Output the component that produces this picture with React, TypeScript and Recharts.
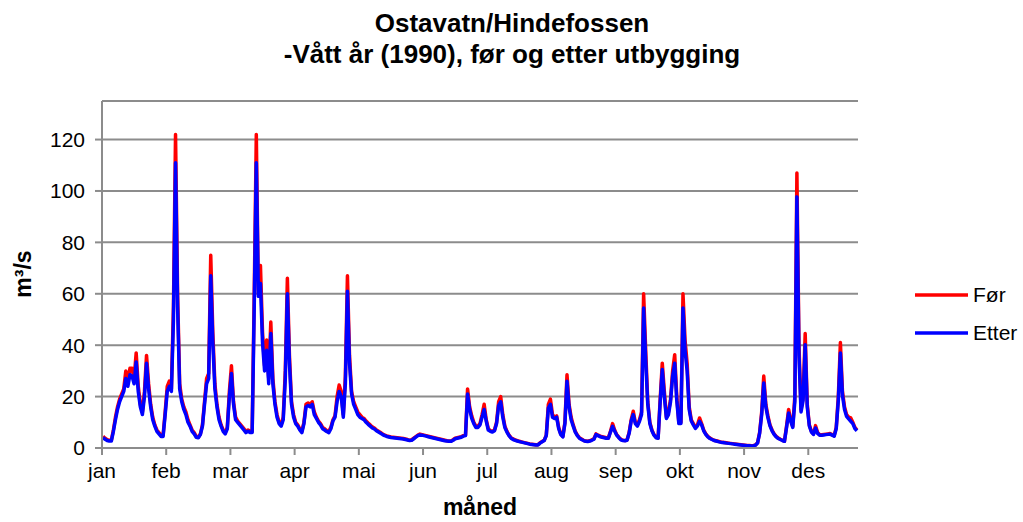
import { LineChart, Line, XAxis, YAxis, CartesianGrid } from 'recharts';

// Døgnverdier (m³/s) lest av figuren, før utbygging
const forJan = [4.5, 3.8, 3.2, 3.0, 3.0, 7, 12, 16, 19, 21, 23, 30, 26, 31, 31, 27, 37, 24, 17, 14, 22, 36, 25, 17, 12, 9, 7, 6, 5, 5, 14];
const forFeb = [24, 26, 23, 55, 122, 60, 25, 19, 16, 14, 11, 9, 7, 6, 4.5, 4.2, 5.5, 9, 18, 27, 29, 75, 45, 25, 17, 12, 9, 7];
const forMar = [6, 8, 22, 32, 18, 12, 10.5, 9.5, 8.5, 7.5, 6.5, 7, 6.5, 6.5, 60, 122, 60, 71, 45, 32, 42, 27, 49, 27, 18, 13, 10, 9, 12, 30, 66];
const forApr = [36, 18, 13, 10, 9, 7.5, 6.5, 10, 17, 17.5, 17, 18, 14, 12, 10.5, 9.5, 8, 7.5, 6.8, 6.5, 8, 11, 12.5, 20, 24.5, 22, 13, 28, 67, 36];
const forMai = [22, 18, 16, 14, 13, 12, 11.5, 10.5, 9.7, 9, 8.2, 7.8, 7, 6.5, 6, 5.5, 5, 4.7, 4.5, 4.3, 4.2, 4.1, 4, 3.9, 3.8, 3.7, 3.5, 3.3, 3, 3.2, 3.8];
const forJun = [4.4, 5, 5.4, 5.2, 5, 4.8, 4.6, 4.4, 4.2, 4, 3.8, 3.6, 3.4, 3.2, 3.0, 2.8, 2.7, 2.7, 3.2, 3.8, 4, 4.2, 4.4, 4.8, 5, 23, 16, 12.5, 10, 8.5];
const forJul = [8.5, 9.5, 13, 17, 11, 7.5, 6.8, 6.5, 7, 10, 18, 20, 13, 8.5, 6.5, 5, 4, 3.5, 3.2, 2.9, 2.6, 2.4, 2.2, 2, 1.8, 1.6, 1.5, 1.4, 1.3, 1.3, 2];
const forAug = [2.5, 3, 5, 17, 19, 13, 12, 12.5, 8, 5.5, 4.5, 10, 28.5, 17, 12, 9, 6.5, 5, 4, 3.5, 3, 2.7, 2.6, 2.8, 3.2, 3.6, 5.5, 5, 4.6, 4.4, 4.2];
const forSep = [4, 4, 6.5, 9.5, 7, 5.2, 4.2, 3.4, 3.0, 2.9, 3.2, 6, 11, 14.3, 10, 9, 11, 14, 60, 38, 18, 10, 7, 5.2, 4.2, 4, 19, 33, 22, 12];
const forOkt = [14, 19, 30, 36.3, 20, 10, 10, 60, 42, 33, 16, 11, 9.5, 8, 9, 11.7, 9.5, 7, 5.5, 4.5, 3.9, 3.4, 3.0, 2.8, 2.6, 2.4, 2.2, 2.1, 2, 1.9, 1.8];
const forNov = [1.7, 1.6, 1.5, 1.4, 1.3, 1.2, 1.1, 1.0, 1.0, 0.9, 0.9, 1.2, 2, 6, 14, 28, 17, 12.5, 9, 7, 5.5, 4.5, 3.9, 3.4, 3, 2.7, 8.5, 15, 11, 8.4];
const forDes = [20, 107, 40, 15, 20, 44.5, 17, 9, 6.5, 5.5, 8.7, 6, 5.2, 5.2, 5.3, 5.4, 5.5, 5.6, 5.2, 4.8, 8, 20, 41, 22, 16, 13, 12, 11.7, 10, 8, 7];

// etter utbygging
const etterJan = [4.0, 3.4, 2.9, 2.7, 2.7, 6.5, 11, 15, 18, 20, 22, 27, 24, 28.5, 28, 25, 33.5, 22, 16, 13, 20, 33, 23, 16, 11, 8.5, 6.5, 5.5, 4.5, 4.5, 13];
const etterFeb = [22, 24, 22, 50, 111, 55, 23, 18, 15, 13, 10, 8.5, 6.5, 5.5, 4.2, 4.0, 5.2, 8.5, 17, 25, 27, 67, 41, 23, 16, 11, 8.5, 6.5];
const etterMar = [5.5, 7.5, 20, 29, 17, 11, 10, 9, 8, 7, 6, 6.5, 6, 6, 55, 111, 59, 64, 41, 30, 38, 25, 44.5, 25, 17, 12, 9.5, 8.5, 11, 27, 60];
const etterApr = [33, 17, 12, 9.5, 8.5, 7, 6, 9.5, 16, 16.5, 16, 17, 13, 11.5, 10, 9, 7.5, 7, 6.4, 6, 7.5, 10.5, 12, 18, 22, 20, 12, 25, 61, 33];
const etterMai = [21, 17, 15, 13, 12, 11.5, 11, 10, 9.2, 8.5, 7.8, 7.4, 6.7, 6.2, 5.7, 5.2, 4.8, 4.5, 4.3, 4.1, 4.0, 3.9, 3.8, 3.7, 3.6, 3.5, 3.3, 3.1, 2.9, 3.0, 3.6];
const etterJun = [4.2, 4.8, 5.1, 5.0, 4.8, 4.6, 4.4, 4.2, 4.0, 3.8, 3.6, 3.4, 3.2, 3.0, 2.8, 2.7, 2.6, 2.6, 3.0, 3.6, 3.8, 4.0, 4.2, 4.6, 4.8, 21, 15, 11.5, 9.5, 8];
const etterJul = [8, 9, 12, 15, 10.5, 7, 6.5, 6.2, 6.7, 9.5, 16.5, 18, 12, 8, 6.2, 4.8, 3.8, 3.3, 3.0, 2.7, 2.5, 2.3, 2.1, 1.9, 1.7, 1.5, 1.4, 1.3, 1.2, 1.2, 1.9];
const etterAug = [2.4, 2.9, 4.8, 15.5, 17, 12, 11.5, 12, 7.5, 5.2, 4.3, 9.5, 26, 16, 11, 8.5, 6.2, 4.8, 3.8, 3.3, 2.9, 2.6, 2.5, 2.7, 3.0, 3.4, 5.2, 4.8, 4.4, 4.2, 4.0];
const etterSep = [3.8, 3.8, 6.2, 8.4, 6.6, 5, 4, 3.2, 2.9, 2.8, 3.0, 5.7, 10.5, 13, 9.5, 8.5, 10.4, 13, 54.5, 34, 17, 9.5, 6.7, 5, 4, 3.8, 18, 30.5, 20, 11.5];
const etterOkt = [13, 18, 28, 33, 18.5, 9.5, 9.5, 54.5, 38, 30, 15, 10.5, 9, 7.6, 8.6, 10.4, 9, 6.7, 5.3, 4.3, 3.7, 3.3, 2.9, 2.7, 2.5, 2.3, 2.1, 2.0, 1.9, 1.8, 1.7];
const etterNov = [1.6, 1.5, 1.4, 1.3, 1.2, 1.1, 1.0, 0.9, 0.9, 0.8, 0.8, 1.1, 1.9, 5.7, 13, 25.3, 16, 11.8, 8.6, 6.7, 5.3, 4.3, 3.7, 3.3, 2.9, 2.6, 8, 13.6, 10.4, 8];
const etterDes = [18, 97.7, 36, 14, 18.5, 40.2, 16, 8.6, 6.2, 5.3, 7.8, 5.7, 5, 5, 5.1, 5.2, 5.3, 5.4, 5, 4.6, 7.6, 18.5, 37, 20.5, 15, 12.3, 11.3, 10.4, 9.5, 7.6, 6.7];

const months = ['jan', 'feb', 'mar', 'apr', 'mai', 'jun', 'jul', 'aug', 'sep', 'okt', 'nov', 'des'];
const monthTicks = [0, 31, 62, 93, 124, 155, 186, 217, 248, 279, 310, 341];
const yTicks = [0, 20, 40, 60, 80, 100, 120];

const forAll = [...forJan, ...forFeb, ...forMar, ...forApr, ...forMai, ...forJun, ...forJul, ...forAug, ...forSep, ...forOkt, ...forNov, ...forDes];
const etterAll = [...etterJan, ...etterFeb, ...etterMar, ...etterApr, ...etterMai, ...etterJun, ...etterJul, ...etterAug, ...etterSep, ...etterOkt, ...etterNov, ...etterDes];

const data = forAll.map((v, i) => ({ x: i + 0.5, for: v, etter: etterAll[i] }));

const GRAY = '#8c8c8c';

export default function App() {
  return (
    <div style={{ position: 'absolute', left: 0, top: 0, width: 1023, height: 522, background: '#fff', fontFamily: '"Liberation Sans", Arial, sans-serif' }}>
      <LineChart width={1023} height={522} data={data} margin={{ top: 101, right: 165, bottom: 44, left: 42 }}>
        <CartesianGrid horizontal vertical={false} stroke={GRAY} strokeWidth={2} />
        <XAxis
          type="number"
          dataKey="x"
          domain={[0, 365]}
          ticks={monthTicks}
          interval={0}
          tickFormatter={(v: number) => months[monthTicks.indexOf(v)]}
          height={30}
          tickSize={7}
          tickMargin={8}
          axisLine={{ stroke: GRAY, strokeWidth: 2 }}
          tickLine={{ stroke: GRAY, strokeWidth: 2 }}
          tick={{ fill: '#000', fontSize: 21 }}
        />
        <YAxis
          domain={[0, 135]}
          ticks={yTicks}
          interval={0}
          width={60}
          tickSize={7}
          tickMargin={10}
          axisLine={{ stroke: GRAY, strokeWidth: 2 }}
          tickLine={{ stroke: GRAY, strokeWidth: 2 }}
          tick={{ fill: '#000', fontSize: 21 }}
        />
        <Line type="linear" dataKey="for" name="Før" stroke="#ff0000" strokeWidth={3.5} strokeLinejoin="round" dot={false} isAnimationActive={false} />
        <Line type="linear" dataKey="etter" name="Etter" stroke="#0000ff" strokeWidth={3.5} strokeLinejoin="round" dot={false} isAnimationActive={false} />
      </LineChart>
      <svg width={1023} height={522} style={{ position: 'absolute', left: 0, top: 0, pointerEvents: 'none' }}>
        <text x={512} y={32} textAnchor="middle" fontWeight="bold" fontSize={26}>Ostavatn/Hindefossen</text>
        <text x={512} y={63} textAnchor="middle" fontWeight="bold" fontSize={26}>-Vått år (1990), før og etter utbygging</text>
        <text transform="translate(31,274) rotate(-90)" textAnchor="middle" fontWeight="bold" fontSize={23}>m³/s</text>
        <text x={480} y={515} textAnchor="middle" fontWeight="bold" fontSize={23}>måned</text>
        <line x1={915} y1={295} x2={968} y2={295} stroke="#ff0000" strokeWidth={3.5} />
        <text x={973} y={302} fontSize={21}>Før</text>
        <line x1={915} y1={333} x2={968} y2={333} stroke="#0000ff" strokeWidth={3.5} />
        <text x={973} y={340} fontSize={21}>Etter</text>
      </svg>
    </div>
  );
}
